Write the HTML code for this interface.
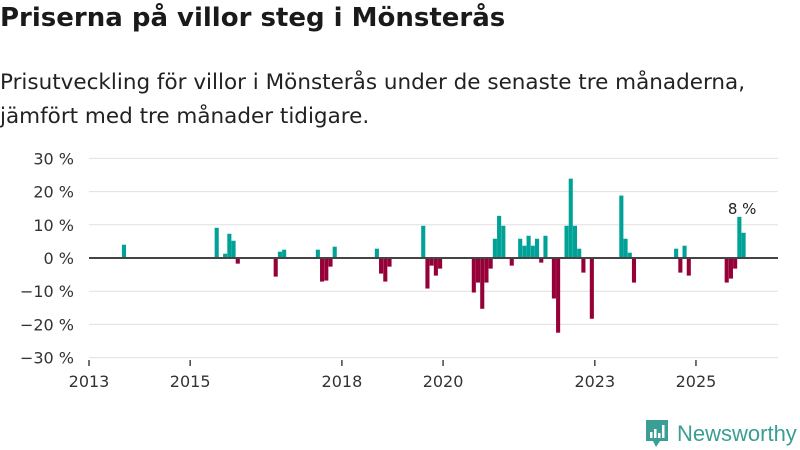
<!DOCTYPE html>
<html><head><meta charset="utf-8"><style>
body{margin:0;width:800px;height:450px;background:#fff;font-family:"DejaVu Sans","Liberation Sans",sans-serif;color:#222;overflow:hidden;position:relative}
h1{position:absolute;left:0;top:3px;margin:0;font-size:26px;font-weight:bold;color:#1a1a1a;white-space:nowrap}
p{position:absolute;left:0;top:66px;margin:0;font-size:21.5px;line-height:34px;color:#222;white-space:nowrap}
svg{position:absolute;left:0;top:0}
</style></head><body>
<h1>Priserna på villor steg i Mönsterås</h1>
<p>Prisutveckling för villor i Mönsterås under de senaste tre månaderna,<br>jämfört med tre månader tidigare.</p>
<svg id="chart" width="800" height="450"></svg>
<div style="position:absolute;left:645px;top:419px;display:flex;align-items:center">
<svg width="24" height="30" viewBox="0 0 24 30" style="position:static"><path d="M1 1h22v21h-8l-4 6-3-6H1z" fill="#3b9e94"/><rect x="5" y="13" width="2.5" height="6" fill="#fff"/><rect x="9" y="10" width="2.5" height="9" fill="#fff"/><rect x="13" y="14" width="2.5" height="5" fill="#fff"/><rect x="17" y="6" width="2.5" height="13" fill="#fff"/></svg>
<span style="font-family:'Liberation Sans',sans-serif;font-size:22px;color:#3b9e94;margin-left:8px">Newsworthy</span></div>
<script>
const months=[8,30,32,33,34,35,44,45,46,54,55,56,57,58,68,69,70,71,79,80,81,82,83,91,92,93,94,95,96,97,98,100,102,103,104,105,106,107,108,110,111,113,114,115,116,117,119,126,127,128,129,139,140,141,142,151,152,153,154,155];
const values=[4,9.1,1.3,7.3,5.2,-1.7,-5.6,1.9,2.5,2.5,-7.1,-6.8,-2.6,3.4,2.8,-4.7,-7.1,-2.6,9.7,-9.2,-2.3,-5.3,-3.2,-10.4,-7.4,-15.3,-7.4,-3.2,5.8,12.7,9.7,-2.3,5.8,3.7,6.7,3.7,5.8,-1.4,6.7,-12.2,-22.5,9.7,23.9,9.7,2.8,-4.4,-18.3,18.8,5.8,1.6,-7.4,2.8,-4.4,3.7,-5.3,-7.4,-6.2,-3.2,12.4,7.6];
const yTicks=[30,20,10,0,-10,-20,-30];
const xTickYears=[2013,2015,2018,2020,2023,2025];
const lastLabel="8 %";
const svg=document.getElementById('chart');
const NS='http://www.w3.org/2000/svg';
const FF='DejaVu Sans,Liberation Sans,sans-serif';
const x0=89,x1=778,pxYear=50.58;
const xm=i=>x0+i*pxYear/12;
const xy=yr=>x0+(yr-2013)*pxYear;
const y=v=>258-v*3.32;
function el(t,a){const e=document.createElementNS(NS,t);for(const k in a)e.setAttribute(k,a[k]);svg.appendChild(e);return e;}
yTicks.forEach(v=>{
 if(v!==0){const g=el('line',{x1:x0,x2:x1,y1:y(v),y2:y(v),stroke:'#e0e0e0','stroke-width':1});
 
 }
 const t=el('text',{x:74,y:y(v)+6,'text-anchor':'end','font-size':16,fill:'#333','font-family':FF});
 t.textContent=(v<0?'\u2212'+(-v):v)+' %';
 
 
});
months.forEach((m,i)=>{
 const v=values[i];
 const r=el('rect',{x:xm(m)-0.8,width:4.1,y:Math.min(y(v),258),height:Math.abs(y(v)-258),fill:v>=0?'#00a298':'#960038'});
 
 
});
const z=el('line',{x1:x0,x2:x1,y1:258,y2:258,stroke:'#444','stroke-width':2});


xTickYears.forEach(yr=>{
 const l=el('line',{x1:xy(yr),x2:xy(yr),y1:360,y2:366,stroke:'#444','stroke-width':1.5});
 
 
 const t=el('text',{x:xy(yr),y:387,'text-anchor':'middle','font-size':16,fill:'#333','font-family':FF});
 t.textContent=yr;
 
 
});
const li=months.length-1;
const lb=el('text',{x:xm(months[li-1])+4,y:y(values[li-1])-3,'text-anchor':'middle','font-size':15,fill:'#222','font-family':FF});
lb.textContent=lastLabel;


</script>
</body></html>
